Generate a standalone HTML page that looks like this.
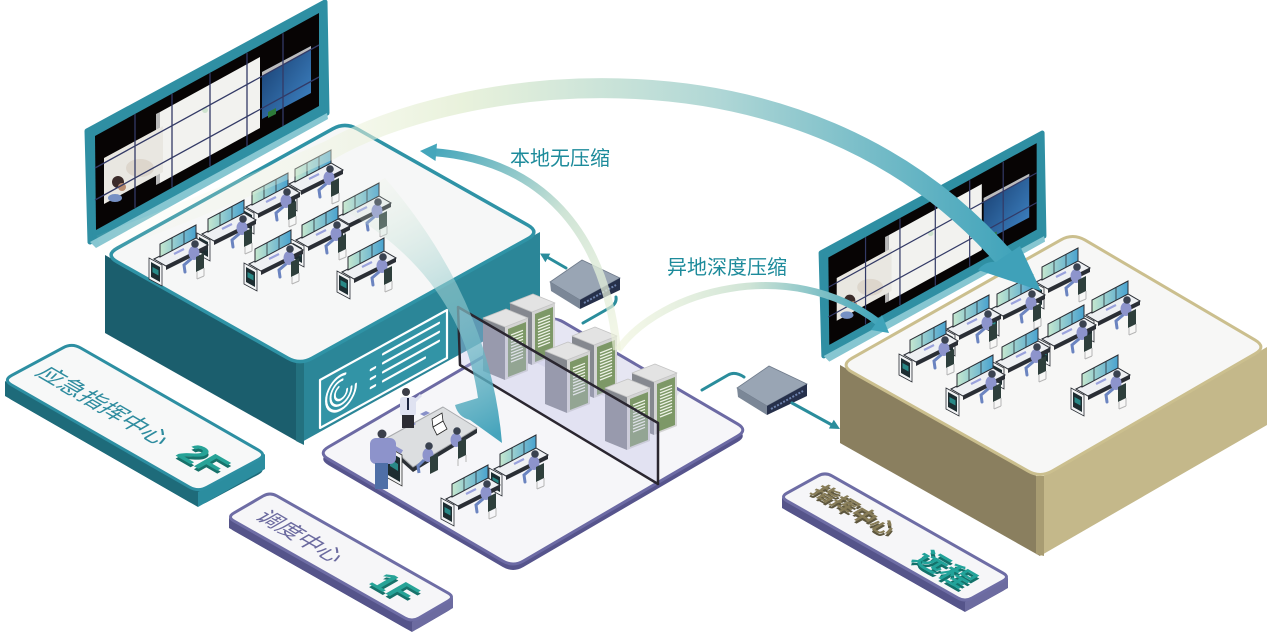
<!DOCTYPE html>
<html><head><meta charset="utf-8">
<style>
html,body{margin:0;padding:0;background:#fff;}
svg{display:block;font-family:"Liberation Sans","Noto Sans CJK SC",sans-serif;}
</style></head><body>
<svg xmlns="http://www.w3.org/2000/svg" width="1269" height="636" viewBox="0 0 1269 636">
<defs>
  <linearGradient id="mon" x1="0" y1="0" x2="1" y2="0">
    <stop offset="0" stop-color="#c6e8cf"/><stop offset="1" stop-color="#49a2cf"/>
  </linearGradient>
  <linearGradient id="blue" x1="0" y1="0" x2="1" y2="1">
    <stop offset="0" stop-color="#163a6b"/><stop offset="1" stop-color="#4189cb"/>
  </linearGradient>
  <linearGradient id="gA" gradientUnits="userSpaceOnUse" x1="100" y1="0" x2="1010" y2="0">
    <stop offset="0" stop-color="#eef3dc" stop-opacity="0.05"/>
    <stop offset="0.22" stop-color="#eef3dc" stop-opacity="0.35"/>
    <stop offset="0.4" stop-color="#e6f0d8" stop-opacity="0.9"/>
    <stop offset="0.68" stop-color="#b0d7d6"/>
    <stop offset="1" stop-color="#42a4bb"/>
  </linearGradient>
  <linearGradient id="gB" gradientUnits="userSpaceOnUse" x1="617" y1="350" x2="430" y2="152">
    <stop offset="0" stop-color="#eef3da" stop-opacity="0.6"/>
    <stop offset="0.5" stop-color="#cfe4d6"/>
    <stop offset="1" stop-color="#45a6bb"/>
  </linearGradient>
  <linearGradient id="gC" gradientUnits="userSpaceOnUse" x1="360" y1="190" x2="495" y2="435">
    <stop offset="0" stop-color="#e8f1dc" stop-opacity="0.15"/>
    <stop offset="0.45" stop-color="#9fd0d2" stop-opacity="0.6"/>
    <stop offset="1" stop-color="#379db7" stop-opacity="0.92"/>
  </linearGradient>
  <linearGradient id="gD" gradientUnits="userSpaceOnUse" x1="618" y1="0" x2="880" y2="0">
    <stop offset="0" stop-color="#eef3da" stop-opacity="0.6"/>
    <stop offset="0.5" stop-color="#cfe4d6"/>
    <stop offset="1" stop-color="#3fa3b9"/>
  </linearGradient>

  <g id="desk">
    <polygon points="-6,2 36,-19 48,-12 6,9" fill="#eef0f3" stroke="#2a2e35" stroke-width="1"/>
    <polygon points="6,9 48,-12 48,-8 6,13" fill="#2a2e35"/>
    <polygon points="0,0 0,-13 36,-32 36,-19" fill="url(#mon)" stroke="#2a2e35" stroke-width="1"/>
    <path d="M12,-6.3 V-19.3 M24,-12.7 V-25.7" stroke="#2a2e35" stroke-width="0.8"/>
    <path d="M14,-3 L24,-8" stroke="#9aa2dc" stroke-width="2.2"/>
    <polygon points="-11,1 2,8 2,29 -11,22" fill="#f3f4f5" stroke="#2a2e35" stroke-width="0.8"/>
    <polygon points="-9,5 0,10 0,25 -9,20" fill="#1d2d31"/>
    <polygon points="-7.5,10 -1.5,13.2 -1.5,18.5 -7.5,15.3" fill="#2b9a97" opacity="0.85"/>
    <path d="M31,2 L24,8 L25,15" stroke="#6b84c0" stroke-width="3" fill="none" stroke-linecap="round"/>
    <ellipse cx="34" cy="-4" rx="5.5" ry="7" fill="#8d94cc"/>
    <polygon points="36,0 44,-4 44,11 36,15" fill="#2e3f3c"/>
    <path d="M37,15 V22 M44,11 V19 M37,22 L44,19" stroke="#b5b5b5" stroke-width="1" fill="none"/>
    <circle cx="35" cy="-13" r="3.8" fill="#3a4250"/>
  </g>

  <g id="tower">
    <polygon points="0,0 -22,-9 -22,-62 0,-53" fill="#85888f"/>
    <polygon points="0,0 23,-9 23,-62 0,-53" fill="#d4d4d4"/>
    <polygon points="3,-3 21,-10 21,-58 3,-51" fill="#7d9867"/>
    <polygon points="0,-53 -22,-62 1,-71 23,-62" fill="#e3e3e3" stroke="#c4c4c4" stroke-width="0.8" stroke-linejoin="round"/>
    <path d="M6,-18 L18,-22.7 M6,-21 L18,-25.7 M6,-24 L18,-28.7 M6,-27 L18,-31.7 M6,-30 L18,-34.7 M6,-33 L18,-37.7 M6,-36 L18,-40.7 M6,-39 L18,-43.7 M6,-42 L18,-46.7 M6,-45 L18,-49.7" stroke="#eef3e6" stroke-width="1.3"/>
  </g>

  <g id="wall">
    <polygon points="87,131 325,2 327,113 90,242" fill="#2f8fa3" stroke="#2f8fa3" stroke-width="5" stroke-linejoin="round"/>
    <polygon points="90,242 327,113 328,119 96,248" fill="#86c6d1"/>
    <polygon points="95,136 319,13 319,106 96,230" fill="#070404"/>
    <polygon points="156,114 160,112 160,183 156,185" fill="#b9b9b9"/>
    <polygon points="160,112 260,57 260,128 160,183" fill="#f2f2ef"/>
    <polygon points="104,158 163,126 163,172 104,204" fill="#e9e7e1"/>
    <ellipse cx="140" cy="168" rx="14" ry="9" fill="#ddd6cc"/>
    <circle cx="118" cy="182" r="6" fill="#3b2b29"/>
    <circle cx="122" cy="187" r="4" fill="#b98d72"/>
    <ellipse cx="115" cy="198" rx="7" ry="4" fill="#7690c4"/>
    <polygon points="262,72 311,46 311,93 262,119" fill="url(#blue)"/>
    <polygon points="262,72 311,46 311,50 262,76" fill="#bcbcbc"/>
    <polygon points="268,112 276,108 276,114 268,118" fill="#2d7a3a"/>
    <circle cx="205" cy="110" r="3" fill="#cfe4cf"/>
    <path d="M135,114.1 V207.9 M172,93.9 V187.4 M210,73.1 V166.4 M247,52.9 V146 M283,33.2 V126 M95,168 L319,45 M95,200 L319,77" stroke="#333a66" stroke-width="1.3"/>
  </g>
</defs>

<!-- purple platform (1F) -->
<path transform="translate(0,6)" d="M328.4,447 L542.6,322 Q553,316 563.4,322.1 L737.6,423.9 Q748,430 737.6,436 L523.4,561 Q513,567 502.6,560.9 L328.4,459.1 Q318,453 328.4,447Z" fill="#56548c"/>
<path d="M328.4,447 L542.6,322 Q553,316 563.4,322.1 L737.6,423.9 Q748,430 737.6,436 L523.4,561 Q513,567 502.6,560.9 L328.4,459.1 Q318,453 328.4,447Z" fill="#f6f6f9" stroke="#6c6aa4" stroke-width="3"/>
<polygon points="470,330 553,318 680,392 658,423" fill="#dcdcef" opacity="0.6"/>

<!-- left box (2F) -->
<polygon points="105,255 300,365 300,443 105,333" fill="#1b5e6d"/>
<polygon points="300,365 540,232 540,310 300,443" fill="#2b8698"/>
<polygon points="296,363 304,363 304,445 296,441" fill="#23717f"/>
<path d="M117.2,248.2 L332.8,128.8 Q345,122 357.2,128.9 L527.8,225.1 Q540,232 527.8,238.8 L312.2,358.2 Q300,365 287.8,358.1 L117.2,261.9 Q105,255 117.2,248.2Z" fill="#f6f7f7" stroke="#2f93a6" stroke-width="3.5"/>
<polygon points="320,380 447,310 447,358 320,428" fill="#3294a6" stroke="#ffffff" stroke-width="2.2" stroke-linejoin="round"/>
<g transform="matrix(0.875,-0.485,0,1,320,380)" fill="none" stroke="#fff" stroke-linecap="round">
  <circle cx="24" cy="24" r="17" stroke-width="2.5" stroke-dasharray="85 22"/>
  <circle cx="24" cy="24" r="12" stroke-width="2.3" stroke-dasharray="58 17"/>
  <circle cx="24" cy="24" r="7" stroke-width="2.2" stroke-dasharray="30 14"/>
  <path d="M72,9 H136 M58,18 H63 M72,18 H136 M58,27 H63 M72,27 H136 M58,36 H63 M72,36 H120" stroke-width="2.5"/>
</g>

<!-- left wall -->
<use href="#wall"/>

<!-- left desks -->
<use href="#desk" transform="translate(295,182)"/>
<use href="#desk" transform="translate(252,205)"/>
<use href="#desk" transform="translate(343,215)"/>
<use href="#desk" transform="translate(208,232)"/>
<use href="#desk" transform="translate(302,238)"/>
<use href="#desk" transform="translate(160,257)"/>
<use href="#desk" transform="translate(255,262)"/>
<use href="#desk" transform="translate(348,270)"/>

<!-- conference scene -->
<polygon points="383,440 413,467 477,428 477,433 413,472 383,445" fill="#2b3036"/>
<polygon points="383,440 443,407 477,428 413,467" fill="#dcdee0" stroke="#a8aaad" stroke-width="1" stroke-linejoin="round"/>
<polygon points="386,446 402,455 402,486 386,477" fill="#f1f2f3" stroke="#333" stroke-width="0.8"/>
<polygon points="388,451 400,458 400,482 388,475" fill="#1d2d31"/>
<polygon points="390,459 398,464 398,471 390,466" fill="#2b9a97" opacity="0.85"/>
<polygon points="433,427 443,421 447,429 437,435" fill="#fff" stroke="#222" stroke-width="0.8"/>
<polygon points="433,427 443,421 442,413 432,419" fill="#fff" stroke="#222" stroke-width="0.8"/>
<polygon points="405,425 412,421 416,424 409,428" fill="#8890c8"/>
<polygon points="420,414 426,411 430,413 424,416" fill="#8890c8"/>
<circle cx="406" cy="392" r="4" fill="#3d3f48"/>
<rect x="400" y="397" width="16" height="19" rx="3" fill="#dfe2f1"/>
<path d="M408,398 V410" stroke="#1c2440" stroke-width="2"/>
<path d="M415,401 L421,395" stroke="#dfe2f1" stroke-width="3"/>
<rect x="402" y="415" width="12" height="13" fill="#2c2c33"/>
<ellipse cx="428" cy="455" rx="5.5" ry="7" fill="#8d94cc"/>
<circle cx="429" cy="446" r="3.8" fill="#3a4250"/>
<polygon points="430,457 438,453 438,470 430,474" fill="#2e3f3c"/>
<path d="M424,460 L418,466 L419,473" stroke="#6b84c0" stroke-width="3" fill="none"/>
<ellipse cx="456" cy="440" rx="5.5" ry="7" fill="#8d94cc"/>
<circle cx="457" cy="431" r="3.8" fill="#3a4250"/>
<polygon points="458,442 466,438 466,455 458,459" fill="#2e3f3c"/>
<path d="M458,459 V466 M466,455 V462" stroke="#b5b5b5" stroke-width="1"/>
<circle cx="382" cy="434" r="4.5" fill="#3b404c"/>
<rect x="370" y="438" width="26" height="26" rx="6" fill="#8d93cb"/>
<path d="M395,448 L402,452" stroke="#8d93cb" stroke-width="4"/>
<rect x="375" y="463" width="13" height="26" fill="#4f6fa7"/>

<!-- center desks -->
<use href="#desk" transform="translate(500,467)"/>
<use href="#desk" transform="translate(452,497)"/>

<!-- server towers -->
<use href="#tower" transform="translate(532,365)"/>
<use href="#tower" transform="translate(505,380)"/>
<use href="#tower" transform="translate(594,398)"/>
<use href="#tower" transform="translate(567,413)"/>
<use href="#tower" transform="translate(654,435)"/>
<use href="#tower" transform="translate(627,450)"/>

<!-- glass -->
<polygon points="458,307 658,423 658,484 460,365" fill="#bebce4" fill-opacity="0.35" stroke="#2a2630" stroke-width="2.5" stroke-linejoin="round"/>

<!-- switches -->
<g>
  <polygon points="550,282 582,260 620,278 580,300" fill="#99a5b4" stroke="#6f7b8b" stroke-width="0.8"/>
  <polygon points="550,282 580,300 580,309 551,291" fill="#7b8797"/>
  <polygon points="580,300 620,278 620,290 580,309" fill="#26304b"/>
  <path d="M584,303 L616,285" stroke="#6d82ad" stroke-width="2" stroke-dasharray="2 1.5"/>
</g>
<g transform="translate(187,106)">
  <polygon points="550,282 582,260 620,278 580,300" fill="#99a5b4" stroke="#6f7b8b" stroke-width="0.8"/>
  <polygon points="550,282 580,300 580,309 551,291" fill="#7b8797"/>
  <polygon points="580,300 620,278 620,290 580,309" fill="#26304b"/>
  <path d="M584,303 L616,285" stroke="#6d82ad" stroke-width="2" stroke-dasharray="2 1.5"/>
</g>

<!-- connectors -->
<g stroke="#2a8d9c" stroke-width="3" fill="none" stroke-linecap="round">
  <path d="M583,323 L611,307 Q617,303 616,297"/>
  <path d="M566,268 L547,257"/>
  <path d="M702,390 L728,375 Q735,371 744,377"/>
  <path d="M792,403 L832,425"/>
</g>
<polygon points="540,253.5 550.3,253.6 545.4,262.3" fill="#2a8d9c"/>
<polygon points="840,429 828.9,428.5 833.8,419.8" fill="#2a8d9c"/>

<!-- right box -->
<polygon points="840,365 1040,478 1040,556 840,443" fill="#8a7f5f"/>
<polygon points="1040,478 1267,347 1267,425 1040,556" fill="#c4b88a"/>
<polygon points="1036,476 1044,476 1044,556 1036,554" fill="#a89c72"/>
<path d="M852.2,358.1 L1060.8,239.9 Q1073,233 1085.1,240.1 L1254.9,339.9 Q1267,347 1254.8,353.9 L1052.2,471.1 Q1040,478 1027.9,470.9 L852.1,372.1 Q840,365 852.2,358.1Z" fill="#f7f7f6" stroke="#cbbf8e" stroke-width="3"/>

<!-- right wall -->
<use href="#wall" transform="matrix(0.93,0,0,0.93,740,131)"/>

<!-- right desks -->
<use href="#desk" transform="translate(1042,280)"/>
<use href="#desk" transform="translate(997,307)"/>
<use href="#desk" transform="translate(1092,313)"/>
<use href="#desk" transform="translate(953,327)"/>
<use href="#desk" transform="translate(1048,337)"/>
<use href="#desk" transform="translate(910,353)"/>
<use href="#desk" transform="translate(1002,360)"/>
<use href="#desk" transform="translate(957,387)"/>
<use href="#desk" transform="translate(1082,387)"/>

<!-- slab 2F -->
<path transform="translate(0,15)" d="M11.8,375.3 L63.2,347.7 Q72,343 80.7,348 L258.3,450 Q267,455 258.2,459.7 L206.8,487.3 Q198,492 189.3,487 L11.7,385 Q3,380 11.8,375.3Z" fill="#1d6a79"/>
<polygon points="5,381 198,492 198,507 5,396" fill="#1e6b7a"/>
<polygon points="198,492 265,454 265,469 198,507" fill="#2b8d9f"/>
<path d="M11.8,375.3 L63.2,347.7 Q72,343 80.7,348 L258.3,450 Q267,455 258.2,459.7 L206.8,487.3 Q198,492 189.3,487 L11.7,385 Q3,380 11.8,375.3Z" fill="#f7f8f8" stroke="#2d8fa2" stroke-width="3"/>
<text transform="matrix(0.866,0.5,-0.866,0.5,34.2,374)" font-size="24" fill="#2e8c9f">应急指挥中心</text>
<text transform="matrix(0.866,0.5,-0.866,0.5,174.5,458)" font-size="36" font-weight="bold" fill="#17726b">2F</text>
<text transform="matrix(0.866,0.5,-0.866,0.5,174.5,455)" font-size="36" font-weight="bold" fill="#27a397">2F</text>

<!-- slab 1F -->
<path transform="translate(0,10)" d="M233.9,513 L263.1,496 Q270,492 277,496 L448,593 Q455,597 448.1,601 L418.9,618 Q412,622 405,618 L234,521 Q227,517 233.9,513Z" fill="#4e4d82"/>
<polygon points="229,518 412,622 412,632 229,528" fill="#55548a"/>
<polygon points="412,622 453,598 453,608 412,632" fill="#6c6ba0"/>
<path d="M233.9,513 L263.1,496 Q270,492 277,496 L448,593 Q455,597 448.1,601 L418.9,618 Q412,622 405,618 L234,521 Q227,517 233.9,513Z" fill="#f6f6f8" stroke="#6e6da5" stroke-width="3"/>
<text transform="matrix(0.866,0.5,-0.866,0.5,253.8,517.5)" font-size="23" fill="#6b6a9f">调度中心</text>
<text transform="matrix(0.866,0.5,-0.866,0.5,367.3,586)" font-size="34" font-weight="bold" fill="#17726b">1F</text>
<text transform="matrix(0.866,0.5,-0.866,0.5,367.3,583)" font-size="34" font-weight="bold" fill="#27a397">1F</text>

<!-- slab remote -->
<path transform="translate(0,10)" d="M787,493.1 L818,475.9 Q825,472 832,475.9 L1003,573.1 Q1010,577 1003,580.9 L972,598.1 Q965,602 958,598.1 L787,500.9 Q780,497 787,493.1Z" fill="#4e4d82"/>
<polygon points="782,498 965,602 965,612 782,508" fill="#55548a"/>
<polygon points="965,602 1008,578 1008,588 965,612" fill="#6c6ba0"/>
<path d="M787,493.1 L818,475.9 Q825,472 832,475.9 L1003,573.1 Q1010,577 1003,580.9 L972,598.1 Q965,602 958,598.1 L787,500.9 Q780,497 787,493.1Z" fill="#f6f6f8" stroke="#6e6da5" stroke-width="3"/>
<text transform="matrix(0.866,0.5,-0.866,0.5,809.4,494.5)" font-size="22" font-weight="bold" fill="#5e573e">指挥中心</text>
<text transform="matrix(0.866,0.5,-0.866,0.5,809.4,492)" font-size="22" font-weight="bold" fill="#877c57">指挥中心</text>
<text transform="matrix(0.866,0.5,-0.866,0.5,910.8,562.5)" font-size="29" font-weight="bold" fill="#13716a">远程</text>
<text transform="matrix(0.866,0.5,-0.866,0.5,910.8,559.5)" font-size="29" font-weight="bold" fill="#22a39a">远程</text>

<!-- arrows -->
<path d="M100,245 Q220,200 330,150 C450,80 800,20 1008,262" fill="none" stroke="url(#gA)" stroke-width="20"/>
<path d="M978,270 Q985,261 996,262 L1020,246 L1041,291 Z" fill="#3fa1b9"/>

<path d="M617,350 C605,230 540,160 432,152" fill="none" stroke="url(#gB)" stroke-width="8"/>
<polygon points="420,151 437,143.5 435.5,161" fill="#45a6bb"/>

<path d="M335,205 Q460,272 478,398 L455,405 Q458,417 470,420 L502,443 Q490,300 385,178 Z" fill="url(#gC)"/>

<path d="M618,350 C660,290 790,255 878,322" fill="none" stroke="url(#gD)" stroke-width="7"/>
<polygon points="889,333 871,330 882,315" fill="#3fa3b9"/>

<!-- arrow labels -->
<text x="510" y="165" font-size="20" fill="#1d8b9b">本地无压缩</text>
<text x="667" y="274" font-size="20" fill="#1d8b9b">异地深度压缩</text>
</svg>
</body></html>
